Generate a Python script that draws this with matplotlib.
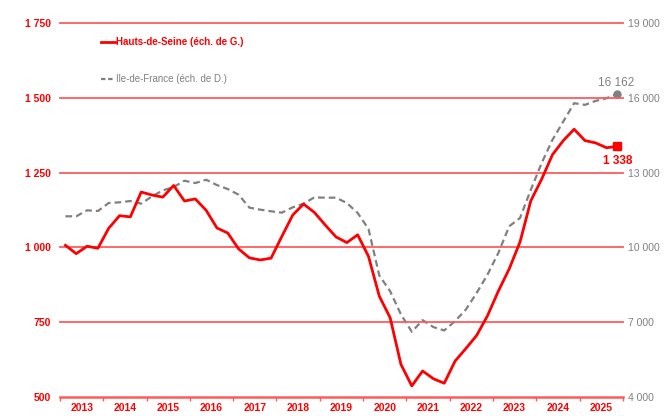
import matplotlib.pyplot as plt
import matplotlib.ticker as mticker
from matplotlib.lines import Line2D

plt.rcParams['font.family'] = ['Liberation Sans', 'DejaVu Sans']

# Quarterly series, Q1 2013 -> Q4 2025
hds = [1007, 979, 1004, 997, 1064, 1106, 1102, 1185,
       1175, 1168, 1207, 1155, 1162, 1124, 1065, 1048,
       995, 965, 958, 964, 1037, 1108, 1145, 1117,
       1075, 1035, 1016, 1042, 970, 837, 765, 609,
       537, 587, 561, 546, 620, 662, 706, 772,
       854, 928, 1018, 1156, 1228, 1310, 1357, 1395,
       1357, 1349, 1333, 1338]
idf = [11247, 11247, 11487, 11460, 11780, 11807, 11860, 11754,
       12047, 12287, 12421, 12674, 12581, 12714, 12500, 12340,
       12114, 11594, 11514, 11447, 11393, 11607, 11754, 12007,
       11994, 11994, 11780, 11380, 10740, 8871, 8244, 7310,
       6616, 7083, 6803, 6670, 7043, 7510, 8177, 8911,
       9779, 10846, 11180, 12314, 13382, 14316, 15050, 15784,
       15717, 15877, 15984, 16162]
years = list(range(2013, 2026))
x = [2013 + (i + 0.5) / 4 for i in range(len(hds))]

RED = '#ff0000'
GRID = '#ff5a5a'
GREY = '#808080'

def fmt_space(v, pos=None):
    return f"{int(v):,}".replace(',', ' ')

fig = plt.figure(figsize=(6.69, 4.16), dpi=100)
ax = fig.add_axes([0.0897, 0.0457, 0.8413, 0.899])
ax2 = ax.twinx()

ax.set_ylim(500, 1750)
ax.set_yticks(range(500, 1751, 250))
ax.yaxis.set_major_formatter(mticker.FuncFormatter(fmt_space))
ax2.set_ylim(4000, 19000)
ax2.set_yticks(range(4000, 19001, 3000))
ax2.yaxis.set_major_formatter(mticker.FuncFormatter(fmt_space))

for v in range(750, 1751, 250):
    ax.axhline(v, color=GRID, lw=1.3, zorder=1, clip_on=False)
ax.axhline(500, color=GRID, lw=1.8, zorder=1, clip_on=False)

ax.set_xlim(2013, 2026)
ax.set_xticks(range(2013, 2027))
ax.set_xticklabels([])
ax.set_xticks([y + 0.5 for y in years], minor=True)
ax.set_xticklabels([str(y) for y in years], minor=True)
ax.tick_params(axis='x', which='major', direction='out', length=3, color=GRID, width=1)
ax.tick_params(axis='x', which='minor', length=0, pad=4, labelsize=7.5, labelcolor=RED)
for t in ax.get_xticklabels(minor=True):
    t.set_fontweight('bold')

ax.tick_params(axis='y', length=0, pad=6.5, labelsize=7.5, labelcolor=RED)
for t in ax.get_yticklabels():
    t.set_fontweight('bold')
ax2.tick_params(axis='y', length=0, pad=4, labelsize=7.5, labelcolor=GREY)

for a in (ax, ax2):
    for s in ('top', 'left', 'right', 'bottom'):
        a.spines[s].set_visible(False)

ax2.plot(x, idf, color=GREY, lw=1.6, ls=(0, (3, 1.8)), zorder=2)
ax2.plot(x[-1], idf[-1], 'o', color=GREY, ms=5, zorder=3)
ax2.annotate(fmt_space(idf[-1]), (x[-1], idf[-1]), xytext=(-1, 3.5),
             textcoords='offset points', ha='center', va='bottom',
             color=GREY, fontsize=8.5)

ax.set_zorder(ax2.get_zorder() + 1)
ax.patch.set_visible(False)
ax.plot(x, hds, color=RED, lw=2, zorder=4)
ax.plot(x[-1], hds[-1], 's', color=RED, ms=6, zorder=5)
ax.annotate(fmt_space(hds[-1]), (x[-1], hds[-1]), xytext=(0, -6),
            textcoords='offset points', ha='center', va='top',
            color=RED, fontsize=8.5, fontweight='bold')

handles = [Line2D([], [], color=RED, lw=2),
           Line2D([], [], color=GREY, lw=1.6, ls=(0, (2, 1.2)))]
leg = ax.legend(handles, ['Hauts-de-Seine (éch. de G.)', 'Ile-de-France (éch. de D.)'],
                loc='upper left', bbox_to_anchor=(0.058, 0.985), frameon=False,
                fontsize=7, handlelength=1.35, handletextpad=0.1, labelspacing=2.75)
texts = leg.get_texts()
texts[0].set_color(RED)
texts[0].set_fontweight('bold')
texts[1].set_color(GREY)

fig.savefig('out.png', dpi=100)
